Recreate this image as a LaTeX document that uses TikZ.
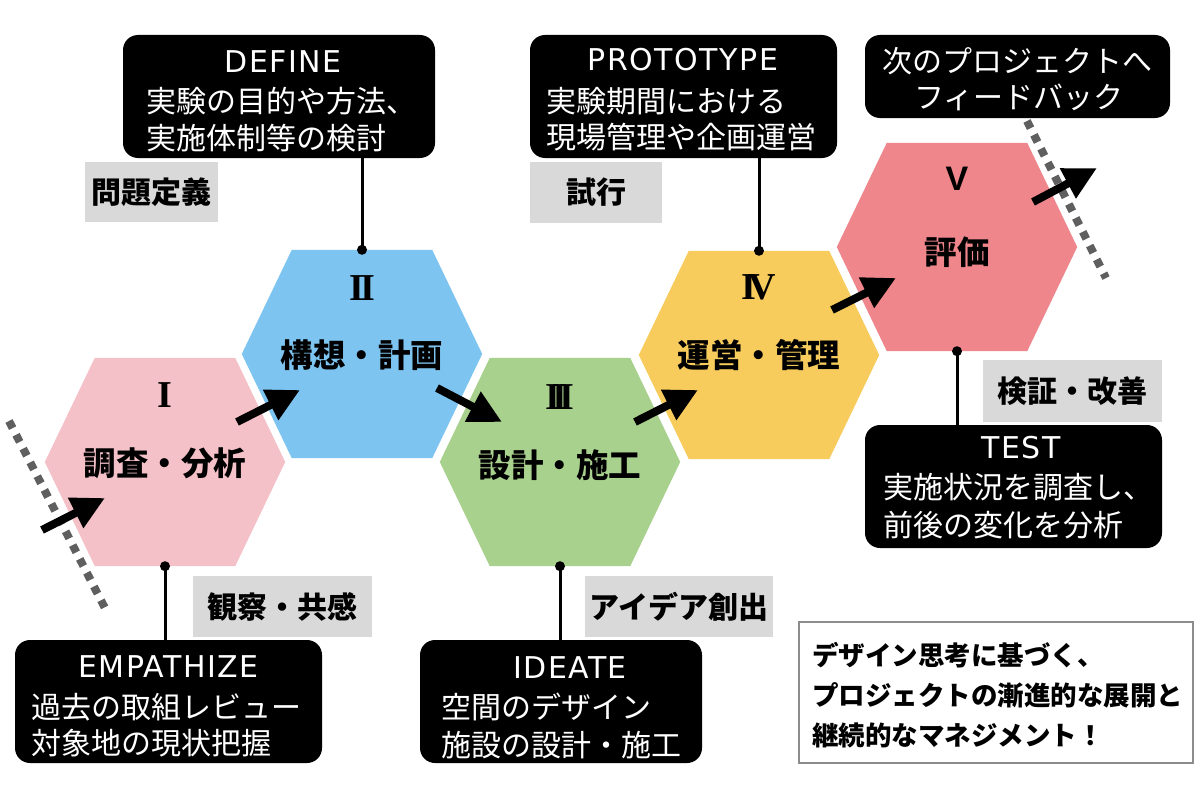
\documentclass[tikz,border=0pt]{standalone}
\usepackage{fontspec}
\setmainfont{Noto Sans CJK JP}
\newfontfamily\enfont[LetterSpace=5]{DejaVu Sans}
\newfontfamily\romfont{Liberation Serif}
\newfontfamily\romsfont{Liberation Sans}
\usetikzlibrary{arrows.meta,calc}
\definecolor{cpink}{HTML}{F4C1C8}
\definecolor{cblue}{HTML}{7DC4F0}
\definecolor{cgreen}{HTML}{A9D18E}
\definecolor{cyellow}{HTML}{F8CC5C}
\definecolor{cred}{HTML}{EE868C}
\definecolor{grayfill}{HTML}{D9D9D9}
\definecolor{dotgray}{HTML}{5F5F5F}
\definecolor{bordergray}{HTML}{8C8C8C}
\tikzset{
 hexbox/.style={inner sep=0pt, minimum width=240pt, minimum height=208pt},
 blackbox/.style={fill=black, rounded corners=15pt, inner sep=0pt},
 graybox/.style={fill=grayfill, inner sep=0pt, font=\bfseries\fontsize{30}{36}\selectfont},
 wtext/.style={text=white, font=\fontsize{30}{36}\selectfont, inner sep=0pt, anchor=base west},
 wctext/.style={text=white, font=\fontsize{30}{36}\selectfont, inner sep=0pt, anchor=base},
 whead/.style={text=white, font=\enfont\fontsize{30}{36}\selectfont, inner sep=0pt, anchor=base},
 hexlabel/.style={font=\bfseries\fontsize{32.5}{38}\selectfont, inner sep=0pt, anchor=base},
 numeral/.style={font=\romfont\bfseries\fontsize{38}{42}\selectfont, inner sep=0pt, anchor=base},
 msgtext/.style={font=\bfseries\fontsize{26.5}{32}\selectfont, inner sep=0pt, anchor=base west},
 bigarrow/.style={line width=8pt, -{Triangle[length=33pt,width=32pt]}},
 dotline/.style={line width=8pt, color=dotgray, dash pattern=on 8pt off 7.5pt},
 stem/.style={line width=3pt},
}
\newcommand\hexfill[2]{\fill[#2] (#1.west) -- ([xshift=50pt]#1.north west) -- ([xshift=-50pt]#1.north east) -- (#1.east) -- ([xshift=-50pt]#1.south east) -- ([xshift=50pt]#1.south west) -- cycle;}
\newcommand\dotat[1]{\fill (#1) circle (5pt);}
\begin{document}
\begin{tikzpicture}[x=1pt,y=-1pt]
\fill[white] (0,0) rectangle (1200,800);
\useasboundingbox (0,0) rectangle (1200,800);

% dotted boundary lines
\coordinate (d1s) at (9,421);
\coordinate (d1e) at (107,612);
\coordinate (d2s) at (1027,121);
\coordinate (d2e) at (1106,278);
\draw[dotline] (d1s) -- (d1e);
\draw[dotline] (d2s) -- (d2e);

% hexagons
\node[hexbox] (h1) at (165,462) {};
\node[hexbox] (h2) at (362,354) {};
\node[hexbox] (h3) at (560,462) {};
\node[hexbox] (h4) at (759,355) {};
\node[hexbox] (h5) at (957,247) {};
\hexfill{h1}{cpink}
\hexfill{h2}{cblue}
\hexfill{h3}{cgreen}
\hexfill{h4}{cyellow}
\hexfill{h5}{cred}

\node[numeral] (n1) at (165,407) {I};
\node[numeral] (n2) at (362,300) {I\kern-0.1em I};
\node[numeral] (n3) at (560,409) {I\kern-0.2em I\kern-0.2em I};
\node[numeral] (n4) at (759,299) {I\kern-0.2em V};
\node[numeral, font=\romsfont\bfseries\fontsize{34}{40}\selectfont] (n5) at (957,190) {V};

\node[hexlabel] (t1) at (165,475) {調査・分析};
\node[hexlabel] (t2) at (362,367) {構想・計画};
\node[hexlabel] (t3) at (560,477) {設計・施工};
\node[hexlabel] (t4) at (759,367) {運営・管理};
\node[hexlabel] (t5) at (957,264) {評価};

% black boxes
\node[blackbox, minimum width=312pt, minimum height=123pt] (bdef) at (279,96.5) {};
\node[whead] (bdefh) at (283,72.5) {DEFINE};
\node[wtext] (bdef1) at (146,113) {実験の目的や方法、};
\node[wtext] (bdef2) at (146,149) {実施体制等の検討};

\node[blackbox, minimum width=307pt, minimum height=123pt] (bpro) at (683.5,96.5) {};
\node[whead] (bproh) at (683,70.5) {PROTOTYPE};
\node[wtext] (bpro1) at (546,113) {実験期間における};
\node[wtext] (bpro2) at (546,148) {現場管理や企画運営};

\node[blackbox, minimum width=305pt, minimum height=83pt] (bnext) at (1017.5,76.5) {};
\node[wctext] (bnext1) at (1017,73) {次のプロジェクトへ};
\node[wctext] (bnext2) at (1019,109) {フィードバック};

\node[blackbox, minimum width=297pt, minimum height=123pt] (btest) at (1013.5,486.5) {};
\node[whead] (btesth) at (1021,458.5) {TEST};
\node[wtext] (btest1) at (883,498) {実施状況を調査し、};
\node[wtext] (btest2) at (883,536) {前後の変化を分析};

\node[blackbox, minimum width=307pt, minimum height=123pt] (bemp) at (168.5,701.5) {};
\node[whead] (bemph) at (168.5,677.5) {EMPATHIZE};
\node[wtext] (bemp1) at (31,718) {過去の取組レビュー};
\node[wtext] (bemp2) at (31,754) {対象地の現状把握};

\node[blackbox, minimum width=282pt, minimum height=123pt] (bide) at (561,701.5) {};
\node[whead] (bideh) at (570,678.5) {IDEATE};
\node[wtext] (bide1) at (441,718) {空間のデザイン};
\node[wtext] (bide2) at (441,756) {施設の設計・施工};

% gray labels
\node[graybox, minimum width=133pt, minimum height=60pt] (g1) at (151.5,192) {問題定義};
\node[graybox, minimum width=132pt, minimum height=61pt] (g2) at (596,192.5) {試行};
\node[graybox, minimum width=179pt, minimum height=62pt] (g3) at (1072.5,391) {検証・改善};
\node[graybox, minimum width=179pt, minimum height=61pt] (g4) at (282.5,606.5) {観察・共感};
\node[graybox, minimum width=188pt, minimum height=61pt] (g5) at (679,606.5) {アイデア創出};

% connectors
\draw[stem] (h2.north) -- (h2.north |- bdef.south);
\dotat{h2.north}
\draw[stem] (h4.north) -- (h4.north |- bpro.south);
\dotat{h4.north}
\draw[stem] (h5.south) -- (h5.south |- btest.north);
\dotat{h5.south}
\draw[stem] (h1.south) -- (h1.south |- bemp.north);
\dotat{h1.south}
\draw[stem] (h3.south) -- (h3.south |- bide.north);
\dotat{h3.south}

% big arrows
\coordinate (a0s) at (42,530);   \coordinate (a0e) at (105,498);
\coordinate (a1s) at (237,422);  \coordinate (a1e) at (300,390);
\coordinate (a2s) at (437,388);  \coordinate (a2e) at (502,422);
\coordinate (a3s) at (635,422);  \coordinate (a3e) at (698,390);
\coordinate (a4s) at (832,310);  \coordinate (a4e) at (896,278);
\coordinate (a5s) at (1033,202); \coordinate (a5e) at (1097,168);
\draw[bigarrow] (a0s) -- (a0e);
\draw[bigarrow] (a1s) -- (a1e);
\draw[bigarrow] (a2s) -- (a2e);
\draw[bigarrow] (a3s) -- (a3e);
\draw[bigarrow] (a4s) -- (a4e);
\draw[bigarrow] (a5s) -- (a5e);

% message box
\node[draw=bordergray, line width=1.5pt, inner sep=0pt, minimum width=394pt, minimum height=141pt] (msg) at (996,692.5) {};
\node[msgtext] (msg1) at (812,665) {デザイン思考に基づく、};
\node[msgtext] (msg2) at (812,705) {プロジェクトの漸進的な展開と};
\node[msgtext] (msg3) at (812,745) {継続的なマネジメント！};
\end{tikzpicture}
\end{document}
